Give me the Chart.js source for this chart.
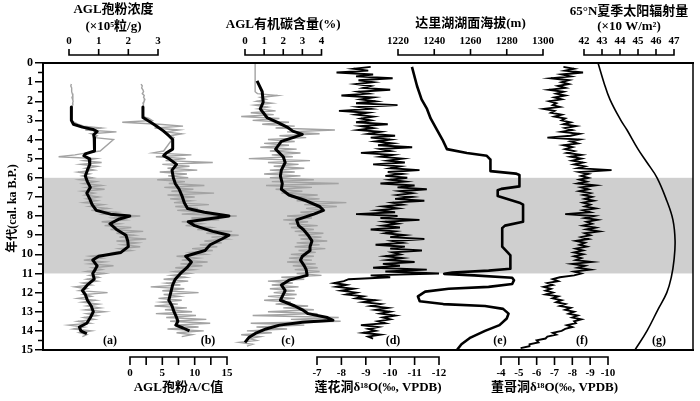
<!DOCTYPE html>
<html>
<head>
<meta charset="utf-8">
<script src="https://cdn.jsdelivr.net/npm/chart.js@4.4.1/dist/chart.umd.min.js"></script>
<style>
  html, body { margin: 0; padding: 0; background: #fff; }
  canvas { display: block; }
</style>
</head>
<body>
<canvas id="myChart" width="700" height="401"></canvas>
<script>
// ---- data (ages in cal. ka B.P.) ----
const ageFine = [
  0.0, 0.1, 0.2, 0.3, 0.4, 0.5, 0.6, 0.7, 0.8, 0.9,
  1.0, 1.1, 1.2, 1.3, 1.4, 1.5, 1.6, 1.7, 1.8, 1.9,
  2.0, 2.1, 2.2, 2.3, 2.4, 2.5, 2.6, 2.7, 2.8, 2.9,
  3.0, 3.1, 3.2, 3.3, 3.4, 3.5, 3.6, 3.7, 3.8, 3.9,
  4.0, 4.1, 4.2, 4.3, 4.4, 4.5, 4.6, 4.7, 4.8, 4.9,
  5.0, 5.1, 5.2, 5.3, 5.4, 5.5, 5.6, 5.7, 5.8, 5.9,
  6.0, 6.1, 6.2, 6.3, 6.4, 6.5, 6.6, 6.7, 6.8, 6.9,
  7.0, 7.1, 7.2, 7.3, 7.4, 7.5, 7.6, 7.7, 7.8, 7.9,
  8.0, 8.1, 8.2, 8.3, 8.4, 8.5, 8.6, 8.7, 8.8, 8.9,
  9.0, 9.1, 9.2, 9.3, 9.4, 9.5, 9.6, 9.7, 9.8, 9.9,
  10.0, 10.1, 10.2, 10.3, 10.4, 10.5, 10.6, 10.7, 10.8, 10.9,
  11.0, 11.1, 11.2, 11.3, 11.4, 11.5, 11.6, 11.7, 11.8, 11.9,
  12.0, 12.1, 12.2, 12.3, 12.4, 12.5, 12.6, 12.7, 12.8, 12.9,
  13.0, 13.1, 13.2, 13.3, 13.4, 13.5, 13.6, 13.7, 13.8, 13.9,
  14.0, 14.1, 14.2, 14.3, 14.4, 14.5, 14.6, 14.7, 14.8, 14.9,
  15.0
];

// (a) AGL pollen concentration, x10^5 grains/g (raw, gray)
const concRaw = [
  null, null, null, null, null, null, null, null, null, null,
  null, 0.08, 0.06, 0.09, 0.1, 0.08, 0.11, 0.13, 0.1, 0.12,
  0.14, 0.12, 0.13, 0.1, 0.08, 0.09, 0.07, 0.08, 0.07, 0.09,
  0.1, 0.18, 0.3, 0.5, 1.1, 0.55, 1.6, 0.75, 0.95, 0.85,
  1.5, null, null, null, null, null, 1.05, 0.6, 0.2, -0.35,
  0.9, 0.5, 1.1, 0.4, 0.95, 0.55, 0.85, 0.3, 0.7, 0.45,
  0.8, 0.35, 0.9, 0.5, 1.1, 0.6, 1.2, 0.45, 0.85, 0.55,
  1.0, 0.6, 0.95, 0.5, 1.15, 0.7, 1.3, 0.75, 1.6, 1.2,
  2.4, 1.5, 1.9, 1.1, 1.7, 1.2, 2.1, 1.4, 2.5, 1.6,
  2.2, 1.7, 2.6, 1.6, 2.3, 1.8, 2.4, 1.7, 2.1, 1.5,
  1.3, 0.7, 1.1, 0.5, 1.2, 0.7, 1.5, 0.8, 1.1, 0.6,
  1.2, 0.7, 1.0, 0.6, 0.95, 0.45, 0.75, 0.2, 0.6, 0.35,
  1.3, 0.5, 0.75, 0.3, 0.9, 0.45, 1.0, 0.6, 1.05, 0.55,
  1.2, 0.6, 0.95, 0.5, 0.85, 0.3, 0.7, 0.0, 0.5, 0.15,
  0.75, 0.35, 0.6, 0.45, null, null, null, null, null, null,
  null
];
const concSmoothAge = [2.3, 3.0, 3.2, 3.35, 3.48, 3.58, 3.75, 3.9, 4.6, 4.75, 4.85, 5.0, 5.3, 5.6, 5.9, 6.2, 6.5, 6.8, 7.1, 7.4, 7.7, 7.9, 8.0, 8.15, 8.4, 8.7, 9.0, 9.3, 9.6, 9.9, 10.1, 10.3, 10.6, 10.8, 11.0, 11.3, 11.6, 11.9, 12.1, 12.4, 12.7, 13.0, 13.3, 13.6, 13.8, 14.0, 14.15];
const concSmooth = [0.08, 0.08, 0.15, 0.45, 0.82, 0.95, 0.83, 0.85, 0.86, 0.55, 0.5, 0.68, 0.7, 0.62, 0.55, 0.62, 0.72, 0.6, 0.7, 0.78, 0.92, 1.4, 2.05, 1.7, 1.38, 1.6, 1.92, 1.98, 2.0, 1.75, 1.0, 0.8, 0.95, 0.88, 0.8, 0.85, 0.62, 0.45, 0.55, 0.62, 0.75, 0.82, 0.72, 0.6, 0.35, 0.4, 0.6];

// (b) AGL pollen A/C ratio
const acRaw = [
  null, null, null, null, null, null, null, null, null, null,
  null, 1.7, 1.9, 1.8, 2.0, 2.1, 1.9, 2.2, 2.1, 2.3,
  2.2, 2.0, 2.1, 2.0, 2.0, 2.0, 2.0, 2.0, 2.1, 2.9,
  3.4, -1.2, 4.5, 8.2, 3.8, 7.6, 5.6, 8.0, 6.2, 6.8,
  6.5, null, null, null, null, null, 5.2, 3.6, 9.5, 4.0,
  8.6, 5.5, 12.8, 5.0, 9.2, 5.8, 10.4, 4.6, 8.8, 5.9,
  9.0, 4.2, 8.5, 6.0, 11.5, 5.3, 9.8, 6.4, 13.0, 5.8,
  10.0, 6.2, 9.4, 6.8, 12.2, 7.0, 10.5, 7.3, 11.8, 8.0,
  16.5, 9.5, 13.8, 8.0, 11.0, 8.6, 12.5, 10.4, 15.8, 11.8,
  16.8, 12.6, 15.0, 11.5, 14.2, 10.8, 13.5, 9.6, 12.8, 9.4,
  11.6, 7.2, 10.5, 8.0, 12.0, 7.8, 11.2, 7.0, 9.8, 6.9,
  9.2, 6.4, 8.6, 5.2, 9.0, 5.6, 7.8, 3.2, 8.4, 5.0,
  10.6, 5.2, 7.6, 4.4, 8.0, 4.8, 7.4, 3.8, 8.8, 5.4,
  9.6, 4.0, 10.2, 5.6, 11.8, 6.2, 12.4, 6.8, 10.6, 5.8,
  11.4, 7.2, 9.6, 8.0, null, null, null, null, null, null,
  null
];
const acSmoothAge = [2.3, 2.85, 3.1, 3.35, 3.56, 3.8, 4.0, 4.5, 4.7, 4.85, 5.0, 5.3, 5.6, 6.0, 6.3, 6.6, 7.0, 7.3, 7.6, 7.8, 8.0, 8.15, 8.3, 8.5, 8.8, 9.0, 9.2, 9.5, 9.8, 10.1, 10.4, 10.7, 11.0, 11.3, 11.6, 12.0, 12.4, 12.7, 13.0, 13.3, 13.5, 13.7, 13.85, 14.0];
const acSmooth = [2.0, 2.0, 3.2, 4.3, 5.2, 6.0, 6.6, 6.6, 5.6, 5.2, 6.0, 7.2, 6.5, 6.7, 7.0, 7.6, 8.1, 8.4, 8.9, 11.5, 15.3, 12.0, 9.0, 10.0, 12.8, 15.3, 14.2, 12.4, 11.6, 8.6, 9.5, 8.8, 7.8, 7.0, 6.6, 6.3, 6.0, 6.5, 6.8, 7.2, 7.4, 7.1, 8.2, 9.2];

// (c) AGL total organic carbon, %
const tocRaw = [
  0.53, 0.53, 0.53, 0.53, 0.53, 0.53, 0.53, 0.53, 0.53, 0.53,
  0.53, 0.53, 0.53, 0.53, 0.53, 0.53, 0.65, 1.7, 0.8, 1.1,
  0.6, 1.4, 0.5, 1.2, 0.7, 1.6, 0.3, 1.5, -0.2, 1.8,
  0.4, 2.3, 0.9, 2.6, 1.6, 4.7, 2.2, 3.9, 1.8, 3.2,
  1.2, 2.6, 1.0, 2.3, 0.8, 2.7, 1.3, 2.9, 1.4, 2.5,
  0.2, 3.4, 1.2, 2.8, 1.5, 3.1, 1.3, 2.6, 1.0, 2.9,
  1.3, 3.6, 1.4, 4.9, 1.1, 3.5, 1.6, 3.0, 1.9, 3.8,
  2.4, 3.9, 2.7, 5.3, 3.1, 4.8, 3.2, 4.2, 2.9, 3.8,
  2.2, 3.5, 2.0, 3.3, 2.3, 3.8, 2.4, 3.6, 2.6, 4.1,
  2.8, 4.0, 2.9, 4.3, 2.7, 3.9, 2.6, 4.2, 2.8, 3.7,
  2.4, 3.6, 2.3, 3.5, 2.2, 3.7, 2.5, 3.8, 2.6, 3.9,
  2.7, 4.0, 1.9, 3.1, 1.2, 2.5, 1.4, 2.8, 1.3, 2.6,
  1.5, 2.7, 1.2, 2.6, 1.0, 2.4, 1.6, 3.3, 2.0, 3.6,
  1.2, 3.8, 0.4, 4.9, 2.4, 5.0, 0.3, 3.1, 0.6, 2.2,
  0.1, 1.4, -0.2, 0.8, 0.2, 0.6, -0.3, 0.4, 0.1, null,
  null
];
const tocSmoothAge = [0.93, 1.5, 2.05, 2.4, 2.85, 3.1, 3.35, 3.56, 3.73, 3.9, 4.1, 4.5, 4.9, 5.2, 5.6, 5.9, 6.3, 6.6, 6.9, 7.2, 7.5, 7.7, 7.9, 8.2, 8.5, 8.7, 9.0, 9.3, 9.6, 9.8, 10.1, 10.3, 10.6, 10.8, 11.1, 11.35, 11.6, 11.9, 12.2, 12.4, 12.7, 12.9, 13.1, 13.3, 13.45, 13.55, 13.7, 13.9, 14.1, 14.35, 14.6];
const tocSmooth = [0.63, 0.9, 0.95, 0.8, 1.15, 1.7, 2.2, 2.5, 3.0, 2.5, 1.9, 1.6, 2.0, 2.1, 1.9, 1.85, 1.95, 1.9, 2.3, 3.2, 3.9, 4.1, 3.6, 2.7, 2.8, 3.05, 3.3, 3.5, 3.4, 3.4, 3.0, 2.9, 3.1, 3.2, 3.25, 2.3, 1.9, 2.1, 1.95, 1.85, 2.6, 3.0, 3.3, 4.3, 4.6, 3.0, 1.8, 1.1, 0.6, 0.2, 0.0];

// (d) Lianhua Cave d18O, permil VPDB
const lianhuaD18O = [
  null, null, -9.2, -8.5, -9.1, -7.8, -9.3, -8.6, -10.1, -8.7,
  -9.3, -8.6, -9.2, -8.9, -10.0, -8.7, -9.1, -8.0, -9.3, -8.8,
  -9.4, -8.6, -10.3, -8.7, -9.2, -7.9, -9.1, -8.6, -9.3, -8.8,
  -9.2, -8.6, -9.9, -8.8, -9.3, -8.7, -9.6, -9.1, -10.2, -9.2,
  -10.0, -9.4, -10.1, -9.5, -10.9, -9.6, -10.0, -8.8, -10.1, -9.6,
  -10.5, -9.9, -10.6, -9.3, -10.4, -10.0, -11.2, -9.9, -10.5, -9.8,
  -10.7, -10.0, -10.6, -9.6, -11.0, -10.3, -11.5, -10.4, -10.9, -10.3,
  -10.9, -10.2, -11.4, -10.1, -10.5, -9.7, -10.3, -9.5, -10.2, -8.6,
  -10.3, -9.6, -11.2, -9.8, -10.3, -9.7, -10.4, -9.2, -10.2, -9.8,
  -10.6, -10.0, -11.4, -10.1, -10.5, -9.4, -10.6, -10.0, -11.3, -10.1,
  -10.4, -9.8, -10.5, -9.9, -11.0, -9.7, -10.4, -9.3, -11.5, -9.8,
  -12.0, -9.2, -10.0, -8.3, -8.1, -7.7, -8.2, -7.8, -8.5, -8.0,
  -8.6, -8.2, -8.9, -8.6, -9.4, -8.9, -9.6, -9.2, -9.9, -9.4,
  -10.0, -9.6, -10.2, -9.7, -10.0, -9.5, -9.8, -8.8, -9.5, -9.1,
  -9.4, -8.9, -9.6, -9.1, -9.3, null, null, null, null, null,
  null
];

// (e) Dali Lake level, m a.s.l. (path order)
const lakeAge = [0.2, 1.2, 1.9, 2.4, 2.9, 3.5, 4.0, 4.5, 4.7, 4.85, 5.05, 5.65, 5.78, 5.85, 6.45, 6.58, 6.65, 6.95, 7.3, 7.4, 8.3, 8.5, 8.63, 9.6, 9.95, 10.05, 10.75, 10.85, 10.95, 11.02, 11.1, 11.22, 11.35, 11.55, 11.7, 11.8, 11.95, 12.2, 12.45, 12.6, 12.7, 12.85, 13.1, 13.35, 13.7, 14.0, 14.35, 14.7, 15.0];
const lakeLevel = [1227.7, 1230.5, 1233, 1236, 1238, 1241.5, 1244.5, 1247, 1258, 1269, 1271, 1271, 1285, 1287, 1287, 1277, 1275, 1275, 1287, 1289, 1289, 1279, 1277.5, 1277.5, 1281, 1282, 1282, 1270, 1250, 1245.5, 1262, 1283, 1284, 1283, 1270, 1248, 1235, 1231, 1232, 1245, 1268, 1278, 1281, 1280, 1276, 1268, 1260, 1255, 1252.5];

// (f) Dongge Cave d18O, permil VPDB
const donggeD18O = [
  null, null, -7.5, -8.1, -7.6, -8.6, -7.4, -7.9, -6.8, -7.8,
  -7.4, -7.8, -7.2, -7.6, -6.7, -7.5, -7.1, -7.6, -7.0, -7.4,
  -6.7, -7.1, -6.9, -7.3, -6.4, -7.0, -6.8, -7.4, -7.0, -7.6,
  -7.4, -7.9, -7.5, -8.2, -7.6, -8.0, -7.4, -8.4, -7.9, -6.6,
  -8.4, -7.9, -8.3, -7.5, -8.0, -7.6, -8.1, -7.7, -8.5, -7.9,
  -8.5, -8.0, -8.6, -8.1, -8.7, -8.3, -10.2, -8.4, -8.9, -8.5,
  -8.9, -8.4, -8.8, -8.3, -9.3, -8.5, -8.9, -8.4, -9.0, -8.6,
  -9.1, -8.7, -9.2, -8.6, -9.0, -8.7, -9.3, -8.6, -9.0, -7.6,
  -9.2, -8.7, -9.4, -8.8, -9.1, -8.6, -9.3, -8.8, -9.5, -8.7,
  -9.0, -8.5, -8.9, -8.2, -8.7, -8.4, -8.8, -8.2, -8.6, -8.1,
  -8.6, -8.1, -8.5, -8.2, -9.1, -8.0, -8.7, -8.3, -9.0, -8.1,
  -8.5, -8.1, -7.3, -6.9, -7.2, -6.6, -6.9, -6.4, -6.8, -6.5,
  -6.9, -6.5, -7.2, -6.9, -7.4, -7.1, -7.6, -7.3, -7.9, -7.6,
  -8.1, -7.8, -8.3, -8.0, -8.5, -8.1, -8.2, -7.7, -8.0, -7.6,
  -7.4, -6.9, -7.1, -6.6, -6.5, -6.0, -6.1, -5.6, -5.6, -5.1,
  null
];

// (g) 65N summer insolation, x10 W/m2
const insolAge = [0, 1, 1.9, 3, 3.5, 4.5, 5.2, 6, 7.2, 8.2, 9.3, 10.3, 11.2, 12, 12.9, 14, 15];
const insolation = [42.78, 43.1, 43.44, 44.05, 44.39, 45.0, 45.5, 46.06, 46.6, 46.94, 47.06, 47.0, 46.85, 46.6, 46.1, 45.5, 44.83];

// shaded interval and tick labels
const bandAges = [6, 11];
const ageTicks = [0, 15];
const concTicks = [0, 1, 2, 3];
const acTicks = [0, 2.5, 5, 7.5, 10, 12.5, 15];
const acLabels = [0, 5, 10, 15];
const tocTicks = [0, 1, 2, 3, 4];
const lianhuaTicks = [-7, -8, -9, -10, -11, -12];
const lakeTicks = [1220, 1240, 1260, 1280, 1300];
const donggeTicks = [-4, -5, -6, -7, -8, -9, -10];
const insolTicks = [42, 43, 44, 45, 46, 47];

// ---- layout ----
const FONT = '"Liberation Serif", "Noto Sans CJK SC", "DejaVu Serif", serif';
const PLOT_L = 43, PLOT_R = 693;

const panels = [
  { id: "xa", ticks: concTicks, labels: concTicks, from: 69, to: 158, side: "top",
    title: ["AGL孢粉浓度", "(×10⁵粒/g)"], titleY: [10, 27], letter: "(a)", letterX: 110 },
  { id: "xb", ticks: acTicks, labels: acLabels, from: 130, to: 227, side: "bottom",
    title: ["AGL孢粉A/C值"], titleY: [388], letter: "(b)", letterX: 208 },
  { id: "xc", ticks: tocTicks, labels: tocTicks, from: 245, to: 321.5, side: "top",
    title: ["AGL有机碳含量(%)"], titleY: [25], letter: "(c)", letterX: 288 },
  { id: "xd", ticks: lianhuaTicks, labels: lianhuaTicks, from: 317, to: 439, side: "bottom",
    title: ["莲花洞δ¹⁸O(‰, VPDB)"], titleY: [388], letter: "(d)", letterX: 393 },
  { id: "xe", ticks: lakeTicks, labels: lakeTicks, from: 398, to: 543, side: "top",
    title: ["达里湖湖面海拔(m)"], titleY: [24], letter: "(e)", letterX: 500 },
  { id: "xf", ticks: donggeTicks, labels: donggeTicks, from: 501, to: 608, side: "bottom",
    title: ["董哥洞δ¹⁸O(‰, VPDB)"], titleY: [388], letter: "(f)", letterX: 582 },
  { id: "xg", ticks: insolTicks, labels: insolTicks, from: 584, to: 674, side: "top",
    title: ["65°N夏季太阳辐射量", "(×10 W/m²)"], titleY: [12, 27], letter: "(g)", letterX: 659 }
];

// stretch each hidden x scale so its labelled range lands on its own strip
function fitRange(v0, v1, p0, p1) {
  var k = (p1 - p0) / (v1 - v0);
  var a = v0 + (PLOT_L - p0) / k;
  var b = v0 + (PLOT_R - p0) / k;
  return a < b ? { min: a, max: b, reverse: false } : { min: b, max: a, reverse: true };
}

function series(ages, vals) {
  var out = [];
  ages.forEach(function (a, i) {
    if (vals[i] !== null && vals[i] !== undefined) out.push({ x: vals[i], y: a });
  });
  return out;
}

// lower order is drawn on top
function line(axis, pts, color, width, order, join) {
  return {
    xAxisID: axis, yAxisID: "y", data: pts, showLine: true, order: order,
    borderColor: color, borderWidth: width, pointRadius: 0,
    borderJoinStyle: join || "miter", tension: 0, fill: false
  };
}

var scales = {
  y: {
    type: "linear", reverse: true, min: ageTicks[0], max: ageTicks[1],
    ticks: { stepSize: 1, color: "#000", padding: 2, font: { family: FONT, size: 12, weight: "bold" } },
    grid: { drawOnChartArea: false, tickLength: 8, color: "#000", lineWidth: 1.5 },
    border: { display: true, color: "#000", width: 2 },
    afterFit: function (s) { s.width = PLOT_L; }
  }
};
panels.forEach(function (p) {
  var r = fitRange(p.ticks[0], p.ticks[p.ticks.length - 1], p.from, p.to);
  scales[p.id] = { type: "linear", display: false, min: r.min, max: r.max, reverse: r.reverse };
});

/* shaded band, frame and the small panel axes */
var panelAxes = {
  id: "panelAxes",
  beforeDatasetsDraw: function (chart) {
    var ctx = chart.ctx, area = chart.chartArea, y = chart.scales.y;
    var y0 = y.getPixelForValue(bandAges[0]), y1 = y.getPixelForValue(bandAges[1]);
    ctx.save();
    ctx.fillStyle = "#cfcfcf";
    ctx.fillRect(area.left + 1, y0, area.right - area.left - 1, y1 - y0);
    ctx.restore();
  },
  afterDatasetsDraw: function (chart) {
    var ctx = chart.ctx, area = chart.chartArea, y = chart.scales.y;
    ctx.save();
    ctx.strokeStyle = "#000";
    ctx.lineWidth = 2;
    ctx.beginPath();
    ctx.moveTo(area.left - 1, area.top); ctx.lineTo(area.right + 1, area.top);
    ctx.moveTo(area.left - 1, area.bottom); ctx.lineTo(area.right + 1, area.bottom);
    ctx.stroke();
    ctx.lineWidth = 1.5;
    ctx.beginPath();
    ctx.moveTo(area.right, area.top); ctx.lineTo(area.right, area.bottom);
    // minor ticks on the age axis
    for (var v = 0.5; v < 15; v += 1) {
      var py = y.getPixelForValue(v);
      ctx.moveTo(area.left - 5, py); ctx.lineTo(area.left, py);
    }
    ctx.stroke();
    ctx.restore();
  },
  afterDraw: function (chart) {
    var ctx = chart.ctx, area = chart.chartArea;
    ctx.save();
    ctx.strokeStyle = "#000";
    ctx.fillStyle = "#000";
    ctx.textAlign = "center";
    ctx.textBaseline = "middle";
    panels.forEach(function (p) {
      var s = chart.scales[p.id];
      var top = p.side === "top";
      var ly = top ? 55 : 357;
      var dir = top ? -6 : 8;
      var x0 = s.getPixelForValue(p.ticks[0]);
      var x1 = s.getPixelForValue(p.ticks[p.ticks.length - 1]);
      ctx.lineWidth = 1.6;
      ctx.beginPath();
      ctx.moveTo(x0 - 0.8, ly); ctx.lineTo(x1 + 0.8, ly);
      p.ticks.forEach(function (t) {
        var px = s.getPixelForValue(t);
        ctx.moveTo(px, ly); ctx.lineTo(px, ly + dir);
      });
      ctx.stroke();
      ctx.font = "bold 11px " + FONT;
      p.labels.forEach(function (t) {
        ctx.fillText(String(t), s.getPixelForValue(t), top ? 41 : 373);
      });
      ctx.font = "bold 13px " + FONT;
      p.title.forEach(function (txt, i) {
        ctx.fillText(txt, (x0 + x1) / 2, p.titleY[i]);
      });
      ctx.font = "bold 12px " + FONT;
      ctx.fillText(p.letter, p.letterX, area.bottom - 9);
    });
    ctx.font = "bold 12px " + FONT;
    ctx.translate(13, (area.top + area.bottom) / 2 + 2);
    ctx.rotate(-Math.PI / 2);
    ctx.fillText("年代(cal. ka B.P.)", 0, 0);
    ctx.restore();
  }
};

var GRAY = "#a3a3a3";
var ctx = document.getElementById("myChart").getContext("2d");
var chart = new Chart(ctx, {
  type: "scatter",
  data: {
    datasets: [
      line("xa", series(ageFine, concRaw), GRAY, 1.4, 2),
      line("xa", series(concSmoothAge, concSmooth), "#000", 3, 1, "round"),
      line("xb", series(ageFine, acRaw), GRAY, 1.4, 2),
      line("xb", series(acSmoothAge, acSmooth), "#000", 3, 1, "round"),
      line("xc", series(ageFine, tocRaw), GRAY, 1.4, 2),
      line("xc", series(tocSmoothAge, tocSmooth), "#000", 3, 1, "round"),
      line("xd", series(ageFine, lianhuaD18O), "#000", 1.9, 1),
      line("xe", series(lakeAge, lakeLevel), "#000", 2.6, 1, "round"),
      line("xf", series(ageFine, donggeD18O), "#000", 1.9, 1),
      Object.assign(line("xg", series(insolAge, insolation), "#000", 1.6, 1, "round"), { tension: 0.4 })
    ]
  },
  options: {
    responsive: false,
    animation: false,
    devicePixelRatio: 1,
    layout: { padding: { top: 63, bottom: 51, left: 0, right: 7 } },
    plugins: { legend: { display: false }, tooltip: { enabled: false } },
    scales: scales
  },
  plugins: [panelAxes]
});
</script>
</body>
</html>
